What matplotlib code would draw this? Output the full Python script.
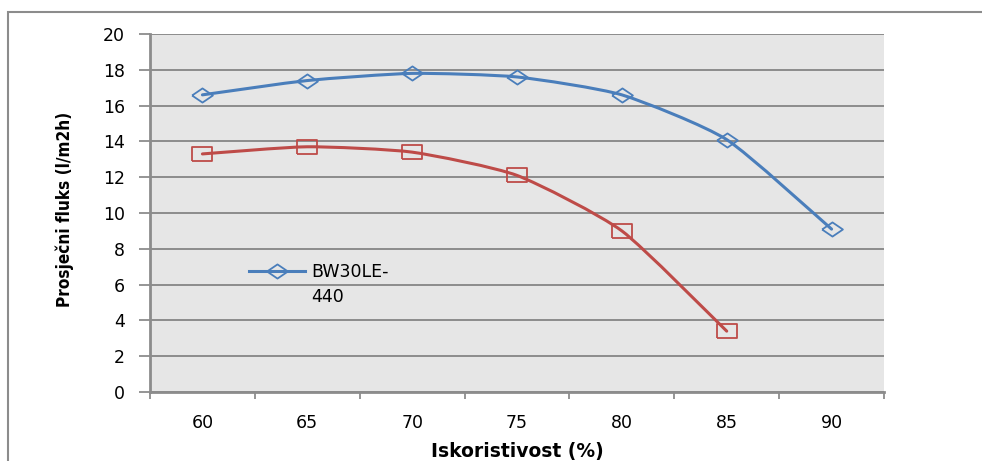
import numpy as np
import matplotlib.pyplot as plt
from matplotlib.path import Path
from matplotlib.patches import PathPatch, Rectangle

plt.rcParams['font.family'] = ['DejaVu Sans']

# podaci ocitani sa grafika
iskoristivost = [60, 65, 70, 75, 80, 85, 90]
bw30le = [16.6, 17.4, 17.8, 17.6, 16.6, 14.1, 9.1]
druga_membrana = [13.3, 13.7, 13.4, 12.1, 9.0, 3.4]

plavo = '#4a7ebb'
crveno = '#be4b48'
siva = '#8c8c8c'

# markeri su malo siri nego visi (kao u Excelu)
romb = [(-1, 0), (0, 0.68), (1, 0), (0, -0.68), (-1, 0)]
kvadrat = [(-1, -0.7), (1, -0.7), (1, 0.7), (-1, 0.7), (-1, -0.7)]


def glatka_linija(ax, xs, ys, boja):
    # zaobljena linija kroz tacke (Bezier)
    p = np.column_stack([xs, ys]).astype(float)
    verts = [p[0]]
    codes = [Path.MOVETO]
    for i in range(len(p) - 1):
        p0 = p[i - 1] if i > 0 else p[i]
        p3 = p[i + 2] if i + 2 < len(p) else p[i + 1]
        c1 = p[i] + (p[i + 1] - p0) / 10
        c2 = p[i + 1] - (p3 - p[i]) / 10
        verts += [c1, c2, p[i + 1]]
        codes += [Path.CURVE4] * 3
    ax.add_patch(PathPatch(Path(verts, codes), fill=False, edgecolor=boja,
                           lw=2.2, capstyle='round', joinstyle='round', zorder=3))


fig = plt.figure(figsize=(9.82, 4.61), dpi=100)
fig.patch.set_facecolor('white')

# okvir grafika
fig.patches.append(Rectangle((8 / 982, -0.1), 1.2, 1 - 12 / 461 + 0.1,
                             transform=fig.transFigure, fill=False,
                             edgecolor=siva, lw=1.5, clip_on=False))

ax = fig.add_axes([150 / 982, 1 - 392 / 461, 734 / 982, 358 / 461])
ax.set_facecolor('#e6e6e6')

x1 = np.arange(len(bw30le))
x2 = np.arange(len(druga_membrana))

glatka_linija(ax, x1, bw30le, plavo)
glatka_linija(ax, x2, druga_membrana, crveno)
ax.plot(x1, bw30le, ls='none', marker=romb, ms=15, mfc='none', mec=plavo, mew=1.3, zorder=4)
ax.plot(x2, druga_membrana, ls='none', marker=kvadrat, ms=15, mfc='none', mec=crveno, mew=1.3, zorder=4)

ax.set_xlim(-0.5, len(iskoristivost) - 0.5)
ax.set_ylim(0, 20)
ax.set_yticks(range(0, 21, 2))
ax.grid(axis='y', color=siva, lw=1.4)
ax.set_axisbelow(True)

# x: crtice izmedju kategorija, oznake u sredini
ax.set_xticks(np.arange(len(iskoristivost) + 1) - 0.5)
ax.set_xticklabels([])
ax.set_xticks(x1, minor=True)
ax.set_xticklabels([str(v) for v in iskoristivost], minor=True)
ax.tick_params(axis='x', which='major', length=5, width=1.3, color=siva, direction='out')
ax.tick_params(axis='x', which='minor', length=0, pad=16, labelsize=12.5)
ax.tick_params(axis='y', length=8, width=1.3, color=siva, labelsize=12.5, pad=10)

for s in ['top', 'right']:
    ax.spines[s].set_visible(False)
ax.spines['left'].set_color(siva)
ax.spines['left'].set_linewidth(2)
ax.spines['bottom'].set_color(siva)
ax.spines['bottom'].set_linewidth(2)

ax.set_xlabel('Iskoristivost (%)', fontsize=13.5, fontweight='bold', labelpad=7)
ax.set_ylabel('Prosječni fluks (l/m2h)', fontsize=12.3, fontweight='bold',
              fontstretch='condensed')
ax.yaxis.set_label_coords(-0.104, 0.51)

# legenda (samo plava serija), drugi red teksta ispod
ax.plot([], [], color=plavo, lw=2.2, marker=romb, ms=15, mfc='none', mec=plavo,
        mew=1.3, label='BW30LE-')
ax.legend(loc='center left', bbox_to_anchor=(0.135, 0.335), borderaxespad=0,
          borderpad=0, frameon=False, fontsize=12.5, handlelength=3.2,
          handletextpad=0.4)
ax.text(0.2193, 0.265, '440', transform=ax.transAxes, fontsize=12.5,
        ha='left', va='center')

fig.savefig('out.png', dpi=100)
